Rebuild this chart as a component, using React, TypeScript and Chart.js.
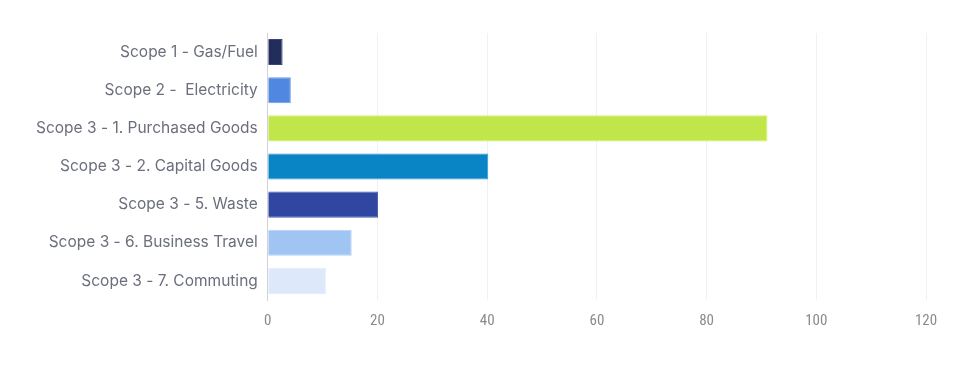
import React, { useEffect, useRef } from "react";
import { Chart, registerables } from "chart.js";

Chart.register(...registerables);

const categories = [
  "Scope 1 - Gas/Fuel",
  "Scope 2 -  Electricity",
  "Scope 3 - 1. Purchased Goods",
  "Scope 3 - 2. Capital Goods",
  "Scope 3 - 5. Waste",
  "Scope 3 - 6. Business Travel",
  "Scope 3 - 7. Commuting",
];
const values = [2.7, 4.2, 91.1, 40.2, 20.1, 15.3, 10.6];
const barColors = ["#222d5c", "#5087e0", "#c0e64a", "#0984c4", "#2f47a0", "#a1c5f2", "#dde9fa"];
const borderColors = ["#3a4676", "#6c9ce8", "#d2f070", "#3098d0", "#4a60b4", "#b5d2f5", "#e6eefc"];
const xTicks = [0, 20, 40, 60, 80, 100, 120];

export default function App() {
  const ref = useRef<HTMLCanvasElement | null>(null);
  useEffect(() => {
    document.body.style.margin = "0";
    const ctx = ref.current!;
    const chart = new Chart(ctx, {
      type: "bar",
      data: {
        labels: categories,
        datasets: [
          {
            data: values,
            backgroundColor: barColors,
            borderColor: borderColors,
            borderWidth: 1,
            barPercentage: 0.76,
            categoryPercentage: 0.9,
          },
        ],
      },
      options: {
        indexAxis: "y",
        animation: false,
        responsive: false,
        maintainAspectRatio: false,
        layout: { padding: { top: 33, right: 34, bottom: 24, left: 26 } },
        plugins: { legend: { display: false }, tooltip: { enabled: false } },
        scales: {
          x: {
            min: 0,
            max: 120,
            afterBuildTicks: (axis: any) => {
              axis.ticks = xTicks.map((v) => ({ value: v }));
            },
            grid: { color: "#f1f1f5", drawTicks: false, lineWidth: 1 },
            border: { display: false },
            ticks: {
              padding: 12,
              color: "#8a8a8e",
              font: { family: "'Liberation Sans Narrow', 'Roboto Condensed', Roboto", size: 15 },
            },
          },
          y: {
            grid: { display: false, drawTicks: false },
            border: { display: true, color: "#d0d0d6", width: 1 },
            ticks: {
              padding: 10,
              color: "#6b6f7c",
              font: { family: "Inter", size: 15.5 },
            },
          },
        },
      },
    });
    return () => chart.destroy();
  }, []);
  return <canvas ref={ref} width={960} height={366} style={{ display: "block" }} />;
}
